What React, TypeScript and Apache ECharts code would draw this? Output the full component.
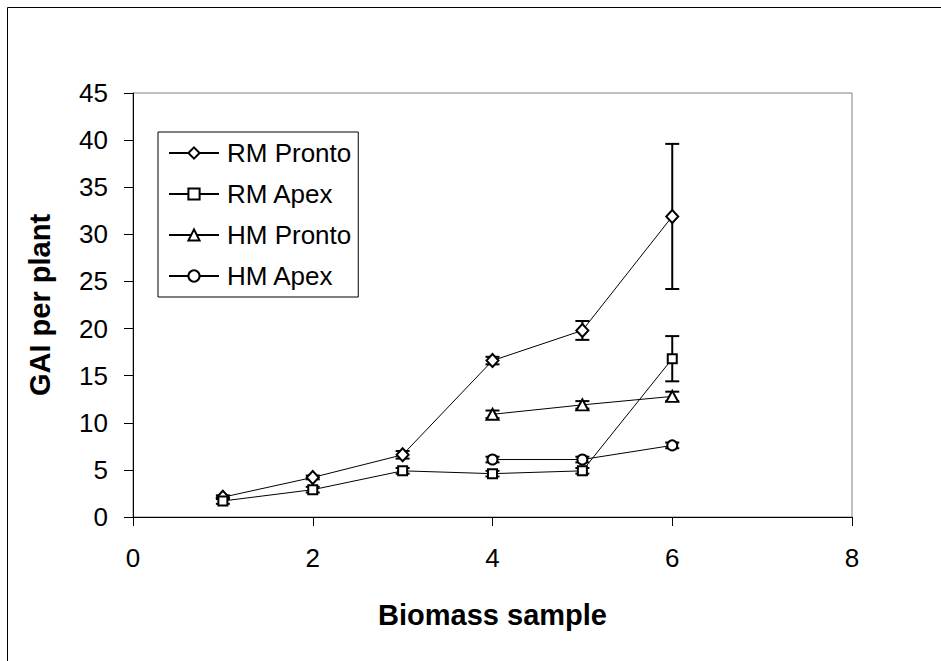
import React, { useEffect, useRef } from "react";
import * as echarts from "echarts";

const xs = [1, 2, 3, 4, 5, 6];
const rmPronto = [2.1, 4.2, 6.6, 16.6, 19.8, 31.9];
const rmProntoErr = [0.2, 0.2, 0.4, 0.4, 1.0, 7.7];
const rmApex = [1.7, 2.9, 4.9, 4.6, 4.9, 16.8];
const rmApexErr = [0.3, 0.3, 0.3, 0.3, 0.3, 2.4];
const hmXs = [4, 5, 6];
const hmPronto = [10.9, 11.9, 12.8];
const hmProntoErr = [0.4, 0.4, 0.5];
const hmApex = [6.1, 6.1, 7.6];
const hmApexErr = [0.3, 0.3, 0.3];

const seriesNames = ["RM Pronto", "RM Apex", "HM Pronto", "HM Apex"];
const xTicks = { min: 0, max: 8, interval: 2 };
const yTicks = { min: 0, max: 45, interval: 5 };

const FONT = "'Liberation Sans', Arial, sans-serif";

function pairs(x: number[], y: number[]) {
  return x.map((v, i) => [v, y[i]]);
}
function errs(x: number[], y: number[], e: number[]) {
  return x.map((v, i) => [v, y[i] - e[i], y[i] + e[i]]);
}

export default function App() {
  const ref = useRef<HTMLDivElement>(null);
  useEffect(() => {
    if (!ref.current) return;
    const chart = echarts.init(ref.current, null, { renderer: "svg" });
    const errData = [
      ...errs(xs, rmPronto, rmProntoErr),
      ...errs(xs, rmApex, rmApexErr),
      ...errs(hmXs, hmPronto, hmProntoErr),
      ...errs(hmXs, hmApex, hmApexErr),
    ];
    const lineSeries = (name: string, data: number[][], symbol: string, size: number | number[]) => ({
      type: "line",
      name,
      data,
      symbol,
      symbolSize: size,
      showAllSymbol: true,
      z: 3,
      lineStyle: { color: "#000", width: 1 },
      itemStyle: { color: "#fff", borderColor: "#000", borderWidth: 2 },
      emphasis: { disabled: true },
    });
    chart.setOption({
      animation: false,
      backgroundColor: "#fff",
      textStyle: { fontFamily: FONT },
      grid: { left: 133, top: 93, right: 89, bottom: 144, show: true, borderColor: "#808080", borderWidth: 1, backgroundColor: "transparent" },
      graphic: [
        {
          type: "rect",
          shape: { x: 7.5, y: 7.5, width: 1000, height: 1000 },
          style: { fill: "none", stroke: "#000", lineWidth: 1 },
          silent: true,
        },
      ],
      legend: {
        data: seriesNames,
        orient: "vertical",
        left: 158,
        top: 132,
        width: 200,
        padding: [6, 7, 6, 10],
        itemWidth: 50,
        itemHeight: 14,
        itemGap: 11,
        borderColor: "#000",
        borderWidth: 1,
        backgroundColor: "#fff",
        textStyle: { fontFamily: FONT, fontSize: 26, color: "#000", lineHeight: 30, padding: [0, 0, 0, 3] },
        inactiveColor: "#000",
      },
      xAxis: {
        type: "value",
        ...xTicks,
        name: "Biomass sample",
        nameLocation: "middle",
        nameGap: 83,
        nameTextStyle: { fontFamily: FONT, fontSize: 29, fontWeight: "bold", color: "#000" },
        axisLine: { show: true, onZero: false, lineStyle: { color: "#000", width: 1 } },
        axisTick: { show: true, inside: false, length: 9, lineStyle: { color: "#000" } },
        axisLabel: { fontFamily: FONT, fontSize: 26, color: "#000", margin: 28 },
        splitLine: { show: false },
      },
      yAxis: {
        type: "value",
        ...yTicks,
        name: "GAI per plant",
        nameLocation: "middle",
        nameGap: 79,
        nameTextStyle: { fontFamily: FONT, fontSize: 29, fontWeight: "bold", color: "#000" },
        axisLine: { show: true, onZero: false, lineStyle: { color: "#000", width: 1 } },
        axisTick: { show: true, inside: false, length: 9, lineStyle: { color: "#000" } },
        axisLabel: { fontFamily: FONT, fontSize: 26, color: "#000", margin: 25 },
        splitLine: { show: false },
      },
      series: [
        {
          type: "custom",
          name: "errors",
          z: 1,
          silent: true,
          data: errData,
          encode: { x: 0, y: [1, 2] },
          renderItem: (params: any, api: any) => {
            const x = api.value(0);
            const lo = api.coord([x, api.value(1)]);
            const hi = api.coord([x, api.value(2)]);
            const hw = 7;
            const st = { stroke: "#000", lineWidth: 2 };
            return {
              type: "group",
              children: [
                { type: "line", shape: { x1: lo[0], y1: lo[1], x2: hi[0], y2: hi[1] }, style: st },
                { type: "line", shape: { x1: lo[0] - hw, y1: lo[1], x2: lo[0] + hw, y2: lo[1] }, style: st },
                { type: "line", shape: { x1: hi[0] - hw, y1: hi[1], x2: hi[0] + hw, y2: hi[1] }, style: st },
              ],
            };
          },
        },
        lineSeries("RM Pronto", pairs(xs, rmPronto), "diamond", [12, 13]),
        lineSeries("RM Apex", pairs(xs, rmApex), "rect", 9),
        lineSeries("HM Pronto", pairs(hmXs, hmPronto), "triangle", [12, 11]),
        lineSeries("HM Apex", pairs(hmXs, hmApex), "circle", 10),
      ],
    });
    return () => chart.dispose();
  }, []);
  return <div ref={ref} style={{ position: "fixed", left: 0, top: 0, width: 941, height: 661 }} />;
}
